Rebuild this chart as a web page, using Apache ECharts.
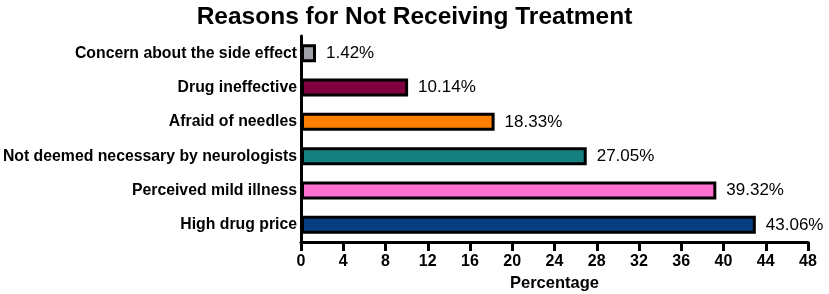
<!DOCTYPE html>
<html>
<head>
<meta charset="utf-8">
<script src="https://cdn.jsdelivr.net/npm/echarts@6/dist/echarts.min.js"></script>
<style>
  html, body { margin: 0; padding: 0; background: #fff; }
  #main { width: 829px; height: 294px; }
</style>
</head>
<body>
<div id="main"></div>
<script>
// bottom to top, as the category axis draws them
const reasons = ['High drug price', 'Perceived mild illness', 'Not deemed necessary by neurologists',
    'Afraid of needles', 'Drug ineffective', 'Concern about the side effect'];
const percents = [43.06, 39.32, 27.05, 18.33, 10.14, 1.42];
const barColors = ['#053f80', '#ff70d0', '#158080', '#ff8000', '#800040', '#a0a0a8'];
const xTicks = [0, 4, 8, 12, 16, 20, 24, 28, 32, 36, 40, 44, 48];

const font = 'Liberation Sans, Arial, sans-serif';

let myChart = echarts.init(document.getElementById('main'));
myChart.setOption({
    animation: false,
    title: {
        text: 'Reasons for Not Receiving Treatment',
        left: 'center',
        top: 0,
        textStyle: { fontFamily: font, fontSize: 24.5, fontWeight: 'bold', color: '#000' }
    },
    grid: { left: 301, right: 21, top: 36, bottom: 52, containLabel: false, outerBoundsMode: 'none' },
    xAxis: {
        type: 'value',
        min: xTicks[0],
        max: xTicks[xTicks.length - 1],
        interval: 4,
        name: 'Percentage',
        nameLocation: 'middle',
        nameGap: 32,
        nameTextStyle: { fontFamily: font, fontSize: 16.5, fontWeight: 'bold', color: '#000' },
        axisLine: { show: true, lineStyle: { color: '#000', width: 3 } },
        axisTick: { show: true, length: 9, lineStyle: { color: '#000', width: 3 } },
        axisLabel: { fontFamily: font, fontSize: 16, fontWeight: 'bold', color: '#000', margin: 12 },
        splitLine: { show: false }
    },
    yAxis: {
        type: 'category',
        data: reasons,
        axisLine: { show: true, lineStyle: { color: '#000', width: 3 } },
        axisTick: { show: false },
        axisLabel: { fontFamily: font, fontSize: 15.8, fontWeight: 'bold', color: '#000', margin: 4 }
    },
    series: [{
        type: 'bar',
        barWidth: 18,
        data: percents.map((v, i) => ({
            value: v,
            itemStyle: { color: barColors[i], borderColor: '#000', borderWidth: 3 }
        })),
        label: {
            show: true,
            position: 'right',
            distance: 10,
            formatter: p => p.value.toFixed(2) + '%',
            fontFamily: font,
            fontSize: 17,
            color: '#000'
        }
    }]
});
</script>
</body>
</html>
